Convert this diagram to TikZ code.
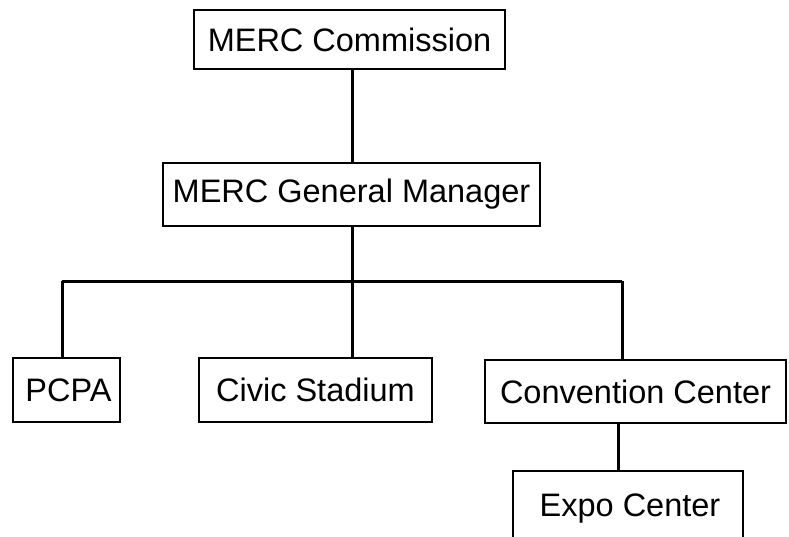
\documentclass[tikz,border=0pt]{standalone}
\usepackage{fontspec}
\setmainfont{Liberation Sans}
\begin{document}
\begin{tikzpicture}[x=1pt,y=-1pt,
  box/.style={draw, line width=2.8pt, rectangle, inner sep=0pt, font=\fontsize{32.5}{37}\selectfont},
  conn/.style={line width=3pt}]
\useasboundingbox (0,0) rectangle (789,536);
\clip (0,0) rectangle (789,536);
\node[box, minimum width=311pt, minimum height=59pt] (comm) at (349.5,39.5) {MERC Commission};
\node[box, minimum width=377pt, minimum height=63pt] (gm) at (351.5,194.5) {MERC General Manager};
\node[box, minimum width=107pt, minimum height=64pt] (pcpa) at (66.5,390) {\hspace{4pt}PCPA};
\node[box, minimum width=233pt, minimum height=64pt] (civic) at (315.5,390) {Civic Stadium};
\node[box, minimum width=301pt, minimum height=63pt] (conv) at (635.5,391.5) {Convention Center};
\node[box, minimum width=230pt, minimum height=76pt] (expo) at (628,509) {\raisebox{5pt}{\hspace{4pt}Expo Center}};
\coordinate (trunk) at (352,281);
\coordinate (hl) at (62,281);
\coordinate (hr) at (622,281);
\coordinate (ex) at (618,424);
\draw[conn] (trunk |- comm.south) -- (trunk |- gm.north);
\draw[conn] (trunk |- gm.south) -- (trunk |- civic.north);
\draw[conn] (hl) -- (hr);
\draw[conn] (hl) -- (hl |- pcpa.north);
\draw[conn] (hr) -- (hr |- conv.north);
\draw[conn] (ex |- conv.south) -- (ex |- expo.north);
\end{tikzpicture}
\end{document}
